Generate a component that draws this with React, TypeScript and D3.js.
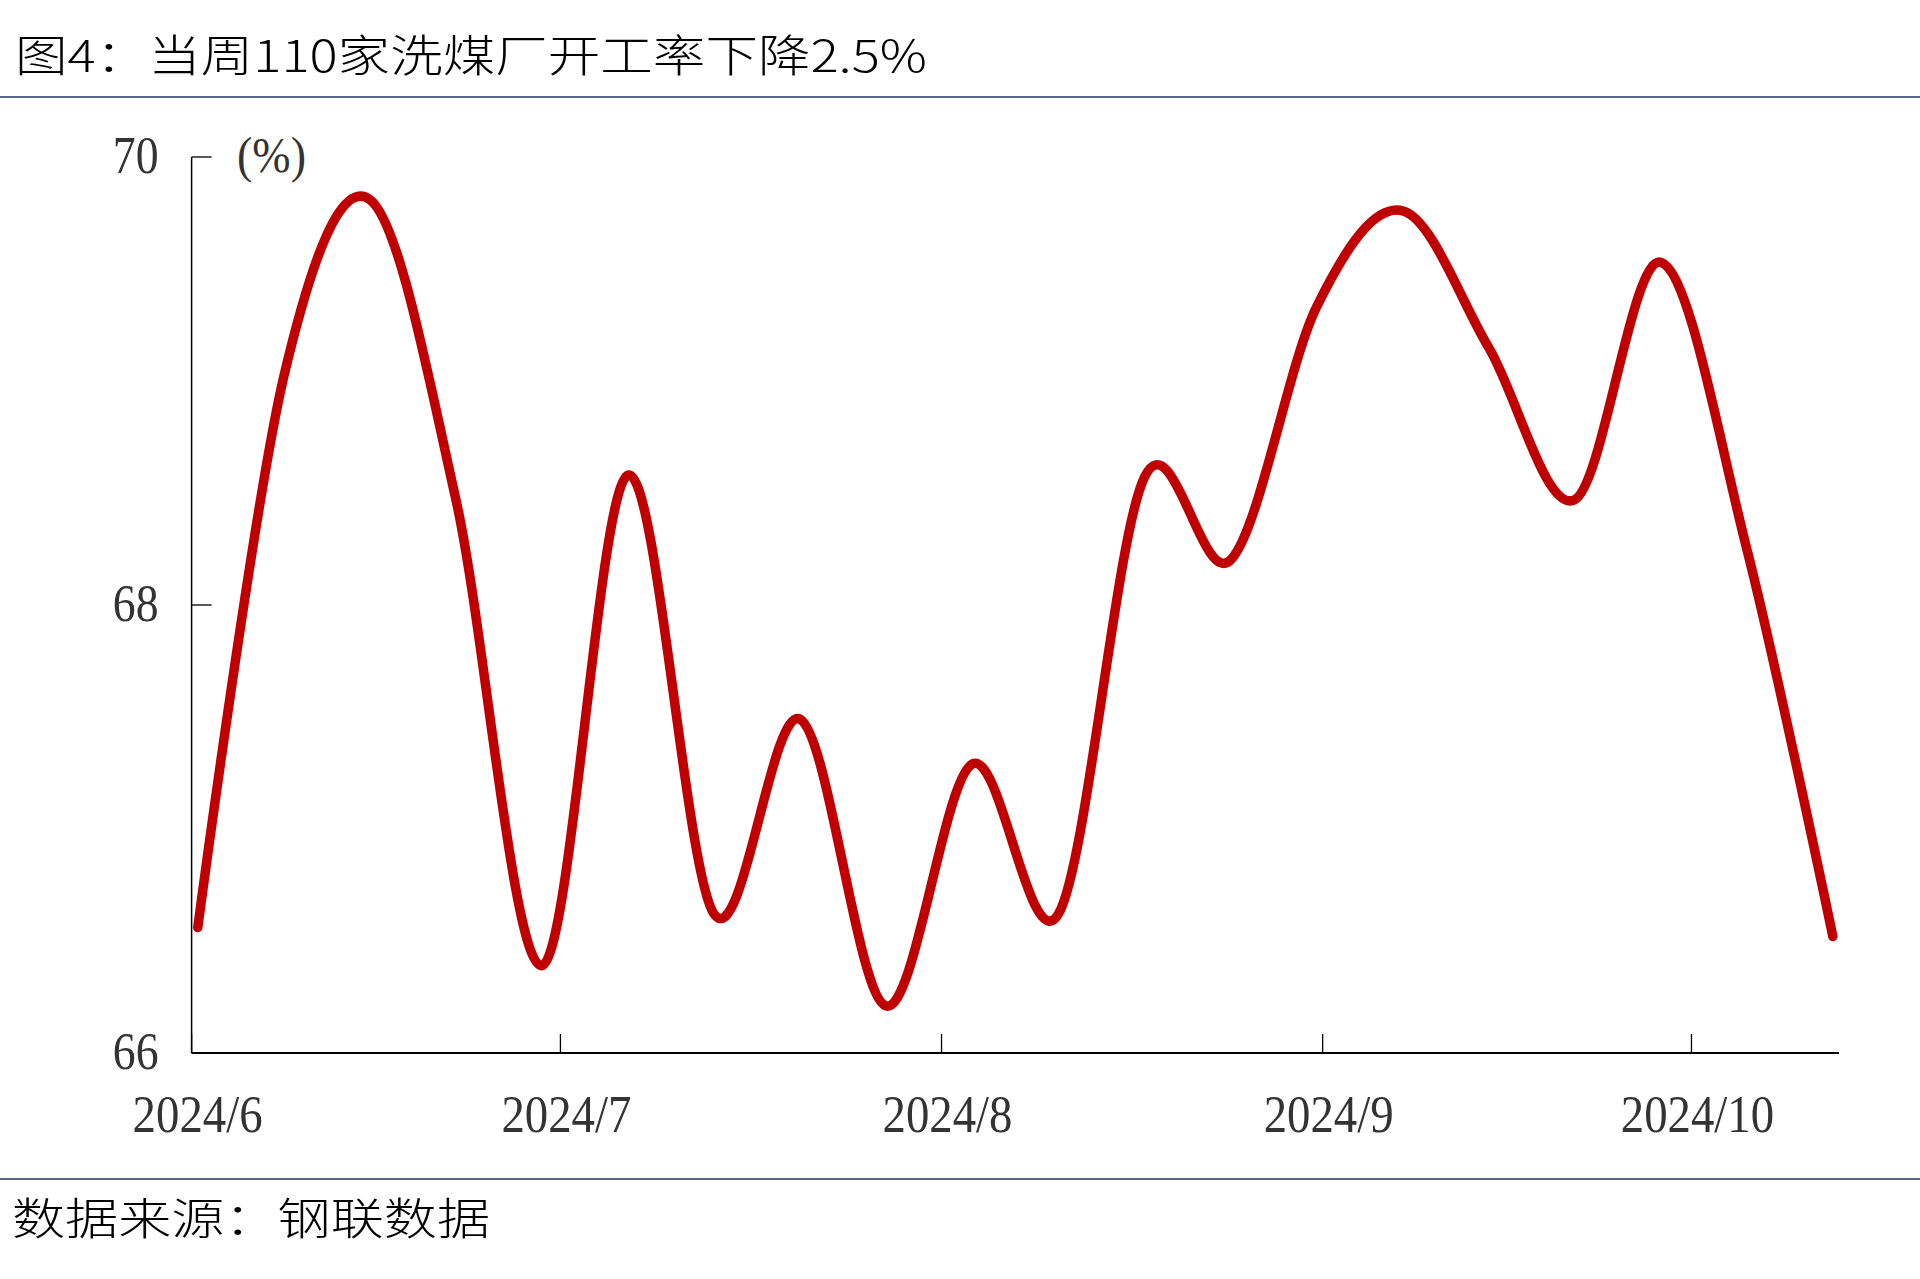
import React from "react";
import * as d3 from "d3";

const title = "图4：当周110家洗煤厂开工率下降2.5%";
const source = "数据来源：钢联数据";
const unitLabel = "(%)";

// weekly observations, starting 2024-06-01
const weekOffsets = [0, 1, 2, 3, 4, 5, 6, 7, 8, 9, 10, 11, 12, 13, 14, 15, 16, 17, 18, 19];
const rates = [
  66.56, 69.02, 69.81, 68.47, 66.39, 68.58, 66.62, 67.49, 66.21, 67.29,
  66.62, 68.57, 68.2, 69.33, 69.76, 69.15, 68.47, 69.53, 68.25, 66.52,
];
const yTicks = [66, 68, 70];
const xTickDates = [
  new Date(2024, 5, 1),
  new Date(2024, 6, 1),
  new Date(2024, 7, 1),
  new Date(2024, 8, 1),
  new Date(2024, 9, 1),
];
const xTickLabels = ["2024/6", "2024/7", "2024/8", "2024/9", "2024/10"];

const W = 1920;
const H = 1279;
const startDate = new Date(2024, 5, 1);
const endDate = new Date(2024, 9, 13);

export default function App() {
  const x = d3.scaleTime().domain([startDate, endDate]).range([191.6, 1839]);
  const y = d3.scaleLinear().domain([66, 70]).range([1053, 157]);

  const data = weekOffsets.map((w, i) => ({
    date: d3.timeHour.offset(d3.timeDay.offset(startDate, w * 7), 12),
    v: rates[i],
  }));

  const line = d3
    .line<{ date: Date; v: number }>()
    .x((d) => x(d.date))
    .y((d) => y(d.v))
    .curve(d3.curveCardinal.tension(0));

  const serif = "'Liberation Serif', 'Times New Roman', serif";
  const cjk = "'Noto Sans CJK SC', sans-serif";
  const axisColor = "#000";
  const labelColor = "#333";
  const rule = "#1F3864";

  return (
    <svg
      width={W}
      height={H}
      viewBox={`0 0 ${W} ${H}`}
      style={{ position: "absolute", left: 0, top: 0, background: "#fff" }}
    >
      <rect x={0} y={0} width={W} height={H} fill="#fff" />
      <text
        x={15}
        y={72}
        fontFamily={cjk}
        fontSize={44}
        fontWeight={300}
        fill="#000"
        textLength={912}
        lengthAdjust="spacingAndGlyphs"
      >
        {title}
      </text>
      <line x1={0} x2={W} y1={97} y2={97} stroke={rule} strokeWidth={1.5} />

      {/* axes */}
      <line x1={x(startDate)} x2={x(startDate)} y1={y(70)} y2={y(66)} stroke={axisColor} strokeWidth={1.5} />
      <line x1={x(startDate)} x2={x(endDate)} y1={y(66)} y2={y(66)} stroke={axisColor} strokeWidth={1.8} />

      {yTicks.map((t) => (
        <g key={t}>
          <line x1={x(startDate)} x2={x(startDate) + 20} y1={y(t)} y2={y(t)} stroke={axisColor} strokeWidth={1.3} />
          <text
            transform={`translate(${x(startDate) - 33},${y(t) + 16}) scale(0.88,1)`}
            textAnchor="end"
            fontFamily={serif}
            fontSize={52}
            fill={labelColor}
          >
            {t}
          </text>
        </g>
      ))}
      <text
        transform={`translate(237,172) scale(0.92,1)`}
        fontFamily={serif}
        fontSize={50}
        fill={labelColor}
      >
        {unitLabel}
      </text>

      {xTickDates.map((d, i) => (
        <g key={i}>
          <line x1={x(d)} x2={x(d)} y1={y(66)} y2={y(66) - 19} stroke={axisColor} strokeWidth={1.3} />
          <text
            transform={`translate(${x(d) + 6},1132) scale(0.9,1)`}
            textAnchor="middle"
            fontFamily={serif}
            fontSize={52}
            fill={labelColor}
          >
            {xTickLabels[i]}
          </text>
        </g>
      ))}

      <path
        d={line(data) || ""}
        fill="none"
        stroke="#C00000"
        strokeWidth={9.5}
        strokeLinecap="round"
        strokeLinejoin="round"
      />

      <line x1={0} x2={W} y1={1179} y2={1179} stroke={rule} strokeWidth={1.5} />
      <text
        x={12}
        y={1235}
        fontFamily={cjk}
        fontSize={44}
        fontWeight={300}
        fill="#000"
        textLength={478}
        lengthAdjust="spacingAndGlyphs"
      >
        {source}
      </text>
    </svg>
  );
}
